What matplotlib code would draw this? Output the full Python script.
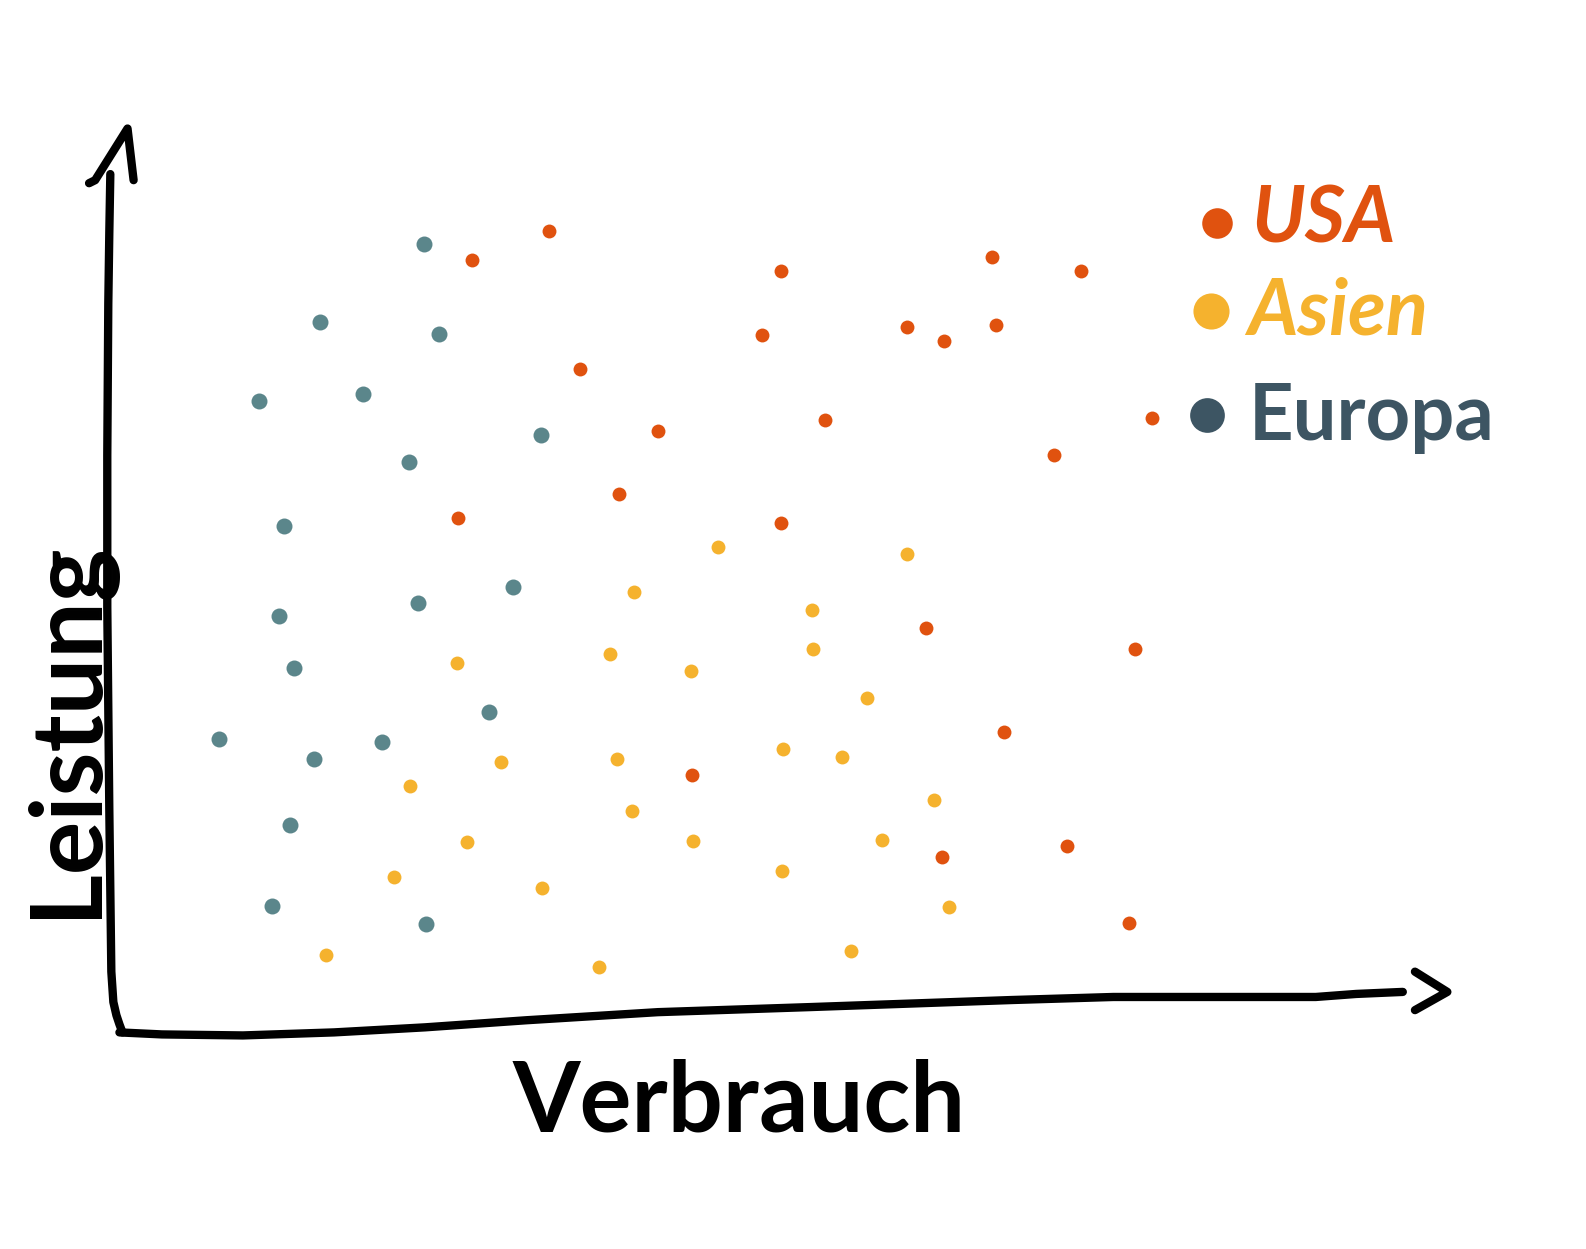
import matplotlib.pyplot as plt

# hand-drawn scatter: Verbrauch vs Leistung, three regions
usa_x = [466, 542, 772, 980, 1068, 753, 896, 933, 984, 573, 650, 815, 1138,
         1041, 612, 453, 772, 915, 1121, 992, 684, 1054, 931, 1115]
usa_y = [257, 228, 268, 254, 268, 331, 323, 337, 321, 365, 426, 415, 413,
         450, 488, 512, 517, 620, 641, 723, 766, 836, 847, 912]

asien_x = [709, 896, 626, 802, 803, 603, 452, 683, 857, 495, 610, 774, 832,
           405, 923, 624, 461, 685, 871, 389, 536, 773, 938, 322, 592, 841]
asien_y = [540, 547, 585, 603, 641, 646, 655, 663, 690, 753, 750, 740, 748,
           777, 790, 801, 832, 831, 830, 866, 877, 861, 896, 944, 955, 940]

europa_x = [419, 316, 434, 256, 359, 535, 404, 281, 507, 276, 413, 290, 483,
            216, 377, 310, 287, 269, 421]
europa_y = [241, 318, 330, 396, 389, 430, 456, 520, 580, 609, 596, 660, 703,
            730, 733, 750, 815, 895, 913]

labels = ['USA', 'Asien', 'Europa']
c_usa, c_asien, c_europa, c_legend_eu = '#E0520F', '#F5B22E', '#5B868B', '#3D5563'

fig = plt.figure(figsize=(15.86, 12.49), dpi=100)
ax = fig.add_axes([0, 0, 1, 1])
ax.set_xlim(0, 1567)
ax.set_ylim(1234, 0)
ax.axis('off')

# axes drawn as marker strokes
lw = 6
stroke = dict(color='black', lw=lw, solid_capstyle='round', solid_joinstyle='round')
ax.plot([109, 108, 107, 106, 106, 108, 110, 112, 115, 118, 121],
        [172, 230, 300, 450, 600, 800, 960, 990, 1003, 1012, 1020], **stroke)
ax.plot([88, 94, 126, 132], [181, 178, 127, 178], **stroke)
ax.plot([118, 160, 240, 330, 420, 520, 650, 800, 1000, 1100, 1300, 1340, 1386],
        [1020, 1022, 1023, 1020, 1015, 1008, 1000, 995, 988, 985, 985, 982, 980], **stroke)
ax.plot([1398, 1430, 1398], [960, 980, 998], **stroke)

ms = 10
ax.scatter(usa_x, usa_y, s=ms**2, color=c_usa, lw=0, zorder=3)
ax.scatter(asien_x, asien_y, s=ms**2, color=c_asien, lw=0, zorder=3)
ax.scatter(europa_x, europa_y, s=(ms * 1.15)**2, color=c_europa, lw=0, zorder=3)

# legend, handwritten style
font = 'Lato'
ax.scatter([1202], [220], s=22**2, color=c_usa, lw=0)
ax.scatter([1196], [307], s=26**2, color=c_asien, lw=0)
ax.scatter([1193], [410], s=25**2, color=c_legend_eu, lw=0)
ax.text(1236, 240, labels[0], color=c_usa, fontsize=56, fontfamily=font,
        fontweight='bold', style='italic', va='baseline')
ax.text(1232, 330, labels[1], color=c_asien, fontsize=56, fontfamily=font,
        fontweight='bold', style='italic', va='baseline')
ax.text(1234, 435, labels[2], color=c_legend_eu, fontsize=56, fontfamily=font,
        fontweight='bold', va='baseline')

ax.text(730, 1118, 'Verbrauch', fontsize=70, fontfamily=font, fontweight='bold',
        ha='center', va='baseline')
ax.text(94, 720, 'Leistung', fontsize=72, fontfamily=font, fontweight='bold',
        rotation=90, ha='center', va='baseline', rotation_mode='anchor')

fig.savefig('out.png', dpi=100, facecolor='white')
